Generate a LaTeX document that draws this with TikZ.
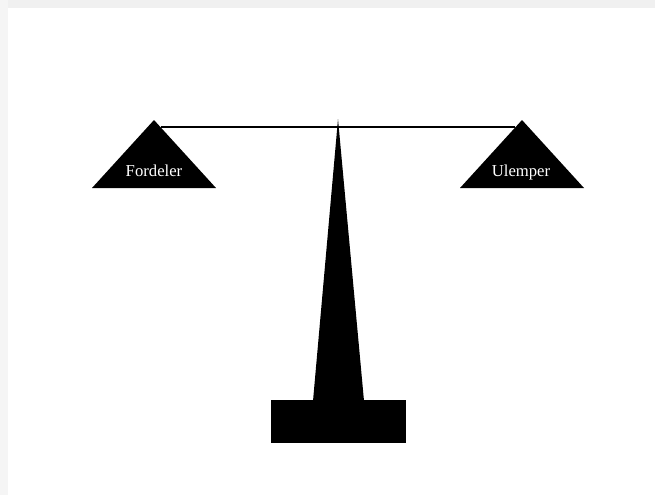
\documentclass[tikz,border=0pt]{standalone}
\usepackage{fontspec}
\setmainfont{Liberation Serif}

\begin{document}
\begin{tikzpicture}[x=0.02cm, y=-0.02cm, pan/.style = {fill=black}, beam/.style = {draw=black, line width=1.1pt}, panlabel/.style = {text=white, font=\fontsize{9.5}{11}\selectfont, anchor=base}]
            \useasboundingbox (0,0) rectangle (655,495);
            % slide edge
            \fill[gray!12] (0,0) rectangle (655,8);
            \fill[gray!8] (0,0) rectangle (8,495);
            % pans and beam
            \coordinate (ltop) at (154,120);
            \coordinate (rtop) at (522,120);
            \coordinate (lbeam) at (161,127);
            \coordinate (rbeam) at (515,127);
            \draw[beam] (lbeam) -- (rbeam);
            \fill[pan] (ltop) -- ++(62,68) -- ++(-124,0) -- cycle;
            \fill[pan] (rtop) -- ++(62,68) -- ++(-124,0) -- cycle;
            \node[panlabel] (fordeler) at (154,176) {Fordeler};
            \node[panlabel] (ulemper) at (521,176) {Ulemper};
            % stand
            \coordinate (tip) at (338,119);
            \fill[pan] (tip) -- (364,401) -- (313,401) -- cycle;
            \fill[pan] (271,400) rectangle (406,443);
        \end{tikzpicture}
\end{document}
